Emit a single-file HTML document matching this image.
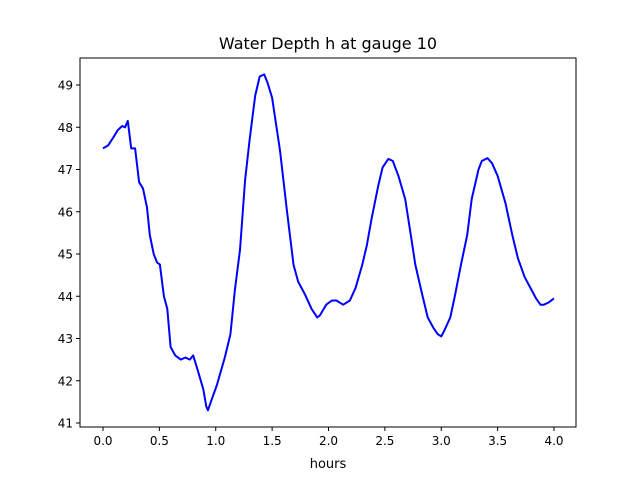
<!DOCTYPE html>
<html><head><meta charset="utf-8"><style>
body{margin:0;background:#fff}
svg{display:block;font-family:"DejaVu Sans","Liberation Sans",sans-serif}
</style></head><body>
<svg id="c" width="640" height="480" viewBox="0 0 640 480">
<rect width="640" height="480" fill="#fff"/>
<text x="328" y="49" text-anchor="middle" font-size="16">Water Depth h at gauge 10</text>
<g id="plot"></g>
<text x="328" y="468" text-anchor="middle" font-size="13">hours</text>
</svg>
<script>
const hours=[0,0.045,0.09,0.13,0.17,0.195,0.22,0.25,0.285,0.32,0.355,0.39,0.415,0.45,0.48,0.505,0.54,0.57,0.6,0.64,0.69,0.73,0.77,0.8,0.84,0.89,0.915,0.93,0.97,1.01,1.08,1.13,1.17,1.215,1.26,1.3,1.35,1.39,1.43,1.46,1.5,1.57,1.63,1.69,1.73,1.79,1.85,1.9,1.925,1.98,2.03,2.07,2.13,2.19,2.24,2.3,2.34,2.38,2.44,2.48,2.53,2.57,2.62,2.68,2.73,2.77,2.83,2.88,2.93,2.97,3.0,3.03,3.08,3.12,3.175,3.23,3.27,3.33,3.36,3.41,3.45,3.5,3.57,3.63,3.68,3.74,3.8,3.84,3.88,3.91,3.95,4.0];
const depth=[47.5,47.57,47.75,47.93,48.03,48.0,48.15,47.5,47.5,46.7,46.55,46.1,45.45,45.0,44.8,44.75,44.0,43.7,42.8,42.6,42.5,42.55,42.5,42.6,42.25,41.8,41.4,41.3,41.6,41.9,42.55,43.1,44.15,45.1,46.75,47.7,48.75,49.2,49.25,49.05,48.7,47.45,46.05,44.75,44.35,44.05,43.7,43.5,43.55,43.8,43.9,43.9,43.8,43.9,44.2,44.75,45.2,45.8,46.6,47.05,47.25,47.2,46.85,46.3,45.45,44.75,44.05,43.5,43.25,43.1,43.05,43.2,43.5,44.0,44.75,45.45,46.3,47.0,47.2,47.27,47.15,46.85,46.2,45.45,44.9,44.45,44.15,43.95,43.8,43.8,43.85,43.95];
const xTicks=[0,0.5,1,1.5,2,2.5,3,3.5,4];
const xTickLabels=["0.0","0.5","1.0","1.5","2.0","2.5","3.0","3.5","4.0"];
const yTicks=[41,42,43,44,45,46,47,48,49];
const yTickLabels=["41","42","43","44","45","46","47","48","49"];
const NS="http://www.w3.org/2000/svg";
const L=80,R=576,T=58,B=427;
const xs=v=>103+v*112.75;
const ys=v=>85+(49-v)*42.25;
const g=document.getElementById('plot');
function mk(t,a){const e=document.createElementNS(NS,t);for(const k in a)e.setAttribute(k,a[k]);g.appendChild(e);return e;}
let d=hours.map((h,i)=>(i?'L':'M')+xs(h).toFixed(1)+','+ys(depth[i]).toFixed(1)).join('');
const line=mk('path',{d:d,fill:'none',stroke:'#0000ff','stroke-width':2,'stroke-linejoin':'round'});


const fr=mk('rect',{x:L,y:T,width:R-L,height:B-T,fill:'none',stroke:'#000','stroke-width':1});


xTicks.forEach((v,i)=>{const x=xs(v);
 const t=mk('line',{x1:x,x2:x,y1:B,y2:B+4,stroke:'#000'});
 
 
 const l=mk('text',{x:x,y:B+18,'text-anchor':'middle','font-size':12});l.textContent=xTickLabels[i];
 
 });
yTicks.forEach((v,i)=>{const y=ys(v);
 const t=mk('line',{x1:L-4,x2:L,y1:y,y2:y,stroke:'#000'});
 
 
 const l=mk('text',{x:L-7,y:y+4.5,'text-anchor':'end','font-size':12});l.textContent=yTickLabels[i];
 
 });
</script>
</body></html>
